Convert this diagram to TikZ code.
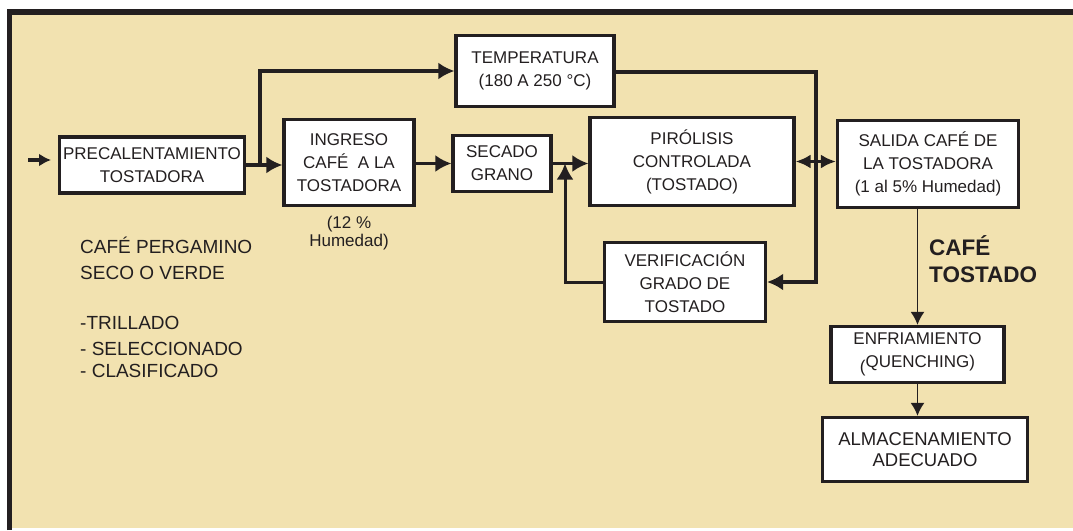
\documentclass[tikz,border=0pt]{standalone}
\usepackage{fontspec}
\setmainfont{Liberation Sans}
\usetikzlibrary{arrows.meta}
\definecolor{beige}{RGB}{242,226,176}
\definecolor{ink}{RGB}{35,31,32}

\begin{document}
\begin{tikzpicture}[x=1pt,y=-1pt]

\tikzset{box/.style = {shape=rectangle,draw=ink,fill=white,line width=3.2pt,align=center,text=ink,inner sep=0pt,font=\fontsize{17}{23}\selectfont}}
\tikzset{note/.style = {text=ink,inner sep=0pt}}
\tikzset{edge/.style = {draw=ink,line width=3.6pt,-{Latex[length=16pt,width=17pt]}}}
\tikzset{thinedge/.style = {draw=ink,line width=1.8pt,-{Latex[length=13pt,width=14pt]}}}

\useasboundingbox (0,0) rectangle (1073,530);

% background
\fill[beige] (12,14) rectangle (1073,528);
\draw[ink,line width=5.5pt] (9.5,530) -- (9.5,12) -- (1073,12);

% boxes
\node[box, minimum width=185pt, minimum height=56pt] (pre) at (152,165) {PRECALENTAMIENTO\\TOSTADORA};
\node[box, minimum width=130pt, minimum height=86pt] (ing) at (349,162.5) {INGRESO\\CAFÉ\ \ A LA\\TOSTADORA};
\node[box, minimum width=98pt, minimum height=56pt] (sec) at (502,163.5) {SECADO\\GRANO};
\node[box, minimum width=158pt, minimum height=71pt] (temp) at (535,71) {TEMPERATURA\\(180 A 250 °C)};
\node[box, minimum width=204pt, minimum height=88pt] (piro) at (692,161.5) {PIRÓLISIS\\CONTROLADA\\(TOSTADO)};
\node[box, minimum width=181pt, minimum height=87pt] (sal) at (928,164) {SALIDA CAFÉ DE\\LA TOSTADORA\\(1 al 5\% Humedad)};
\node[box, minimum width=161pt, minimum height=79pt] (ver) at (685,282) {VERIFICACIÓN\\GRADO DE\\TOSTADO};
\node[box, minimum width=173pt, minimum height=56pt] (enf) at (917.5,354.5) {ENFRIAMIENTO\\\raisebox{-5pt}{(}QUENCHING)};
\node[box, minimum width=205pt, minimum height=64pt, font=\fontsize{18.5}{21}\selectfont] (alm) at (925,449.5) {ALMACENAMIENTO\\ADECUADO};

% texts
\node[note, align=center, font=\fontsize{17}{18}\selectfont] (hum) at (349,233) {(12 \%\\Humedad)};
\node[note, align=left, anchor=west, font=\fontsize{19}{26}\selectfont] (grano) at (80,307) {CAFÉ PERGAMINO\\SECO O VERDE\\[24pt]-TRILLADO\\- SELECCIONADO\\[-4pt]- CLASIFICADO};
\node[note, align=left, anchor=west, font=\fontsize{22.5}{27}\selectfont\bfseries] (tostado) at (929,259) {CAFÉ\\TOSTADO};

% edges
\coordinate (in1) at (28,160);
\coordinate (in2) at (51,160);
\coordinate (split) at (260,165);
\coordinate (bend) at (816,72);
\coordinate (fbtip) at (565,163.5);
\draw[edge, -{Latex[length=12pt,width=13pt]}] (in1) -- (in2);
\draw[edge] (pre.east) -- (pre.east -| ing.west);
\draw[edge] (split) |- (temp.west);
\draw[edge] (ing.east |- sec.west) -- (sec.west);
\draw[edge] (sec.east) -- (sec.east -| piro.west);
\draw[edge, line width=3pt] (ver.west) -| (fbtip);
\draw[edge, line width=3.2pt] ([yshift=-1pt]temp.east) -- (bend) |- (ver.east);
\draw[edge, {Latex[length=15pt,width=14pt]}-{Latex[length=15pt,width=14pt]}] (piro.east) -- (piro.east -| sal.west);
\draw[thinedge] (sal.south -| enf.north) -- (enf.north);
\draw[thinedge] (enf.south) -- (enf.south |- alm.north);

\end{tikzpicture}
\end{document}
